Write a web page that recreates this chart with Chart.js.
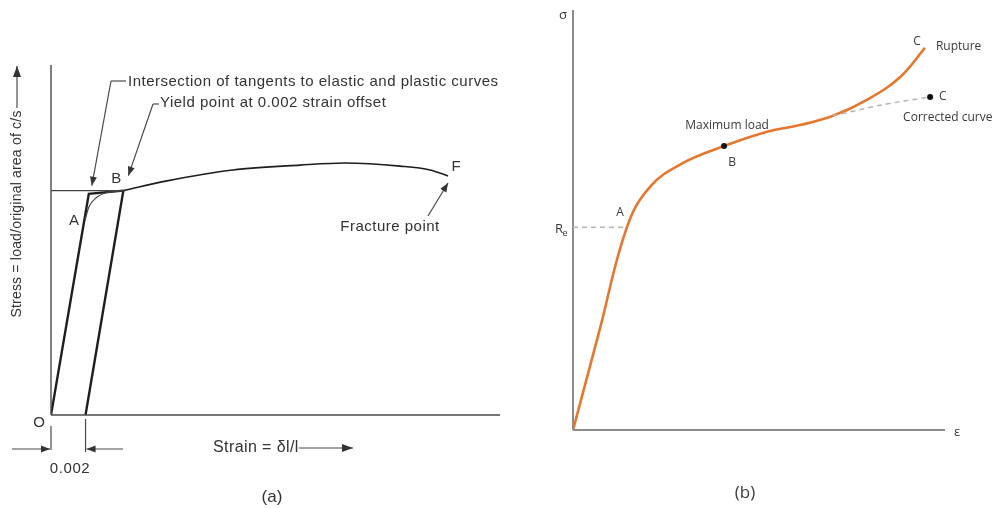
<!DOCTYPE html>
<html>
<head>
<meta charset="utf-8">
<script src="https://cdn.jsdelivr.net/npm/chart.js@4.4.1/dist/chart.umd.min.js"></script>
<style>
  body { margin: 0; background: #fff; width: 992px; height: 509px; overflow: hidden; position: relative; }
  .pane { position: absolute; top: 0; height: 509px; }
  #paneA { left: 0; width: 520px; }
  #paneB { left: 520px; width: 472px; }
</style>
</head>
<body>

<div class="pane" id="paneA"><canvas id="chartA"></canvas></div>
<div class="pane" id="paneB"><canvas id="chartB"></canvas></div>

<script>
// ---- (a) offset yield diagram: strain vs stress (stress in % of axis height)
const elasticStrain = [0, 0.00219, 0.00419];
const elasticStress = [0, 63.2, 64.1];
const offsetStrain = [0.002, 0.00419];
const offsetStress = [0, 64.1];
const kneeStrain = [0.00197, 0.0022, 0.0026, 0.0032, 0.00419];
const kneeStress = [55.7, 59.5, 62.0, 63.5, 64.1];
const tangentStrain = [0, 0.00419];
const tangentStress = [64.1, 64.1];
const plasticStrain = [0.00419, 0.00672, 0.01054, 0.01442, 0.01702, 0.02021, 0.02195, 0.02299];
const plasticStress = [64.1, 66.9, 70.0, 71.4, 72.0, 71.1, 70.0, 68.3];

// ---- (b) engineering curve (arbitrary units 0..100)
const curveStrain = [0, 7, 14.5, 20.7, 29.6, 40.6, 52.2, 61.0, 69.9, 79.0, 87.9, 94.6];
const curveStress = [0, 23.3, 48.3, 57.9, 63.6, 67.6, 71.0, 72.6, 74.8, 78.6, 84.0, 91.0];
const correctedStrain = [69.9, 83, 96.0];
const correctedStress = [74.8, 77.4, 79.3];
const reStrain = [0, 14.5];
const reStress = [48.3, 48.3];
const pointB = { x: 40.6, y: 67.6 };
const pointA = { x: 14.5, y: 48.3 };

function pts(xs, ys) {
  return xs.map((x, i) => ({ x: x, y: ys[i] }));
}

function line(ctx, x1, y1, x2, y2) {
  ctx.beginPath();
  ctx.moveTo(x1, y1);
  ctx.lineTo(x2, y2);
  ctx.stroke();
}

function arrow(ctx, x1, y1, x2, y2, len, half) {
  len = len || 9; half = half || 3.5;
  line(ctx, x1, y1, x2, y2);
  const a = Math.atan2(y2 - y1, x2 - x1);
  ctx.beginPath();
  ctx.moveTo(x2, y2);
  ctx.lineTo(x2 - len * Math.cos(a) + half * Math.sin(a), y2 - len * Math.sin(a) - half * Math.cos(a));
  ctx.lineTo(x2 - len * Math.cos(a) - half * Math.sin(a), y2 - len * Math.sin(a) + half * Math.cos(a));
  ctx.closePath();
  ctx.fill();
}

function baseOptions(padding, xMin, xMax, yMin, yMax) {
  return {
    responsive: true,
    maintainAspectRatio: false,
    animation: false,
    layout: { padding: padding },
    plugins: { legend: { display: false }, tooltip: { enabled: false } },
    scales: {
      x: { type: 'linear', min: xMin, max: xMax, display: false },
      y: { type: 'linear', min: yMin, max: yMax, display: false }
    },
    elements: { point: { radius: 0 } }
  };
}

const fontA = (px) => px + 'px "Liberation Sans", Arial, sans-serif';

// annotations for (a)
const notesA = {
  id: 'notesA',
  afterDraw(chart) {
    const ctx = chart.ctx, a = chart.chartArea;
    const X = v => chart.scales.x.getPixelForValue(v);
    const Y = v => chart.scales.y.getPixelForValue(v);
    ctx.save();
    ctx.strokeStyle = '#4a4a4a';
    ctx.fillStyle = '#333';
    ctx.lineWidth = 1.4;
    line(ctx, a.left, a.top, a.left, a.bottom);
    line(ctx, a.left, a.bottom, a.right, a.bottom);

    ctx.font = fontA(15);
    ctx.letterSpacing = '0.5px';
    ctx.textBaseline = 'middle';
    ctx.textAlign = 'left';
    ctx.fillText('Intersection of tangents to elastic and plastic curves', 128, 82);
    ctx.fillText('Yield point at 0.002 strain offset', 160, 103);

    ctx.lineWidth = 1.2;
    const bx = X(plasticStrain[0]), by = Y(plasticStress[0]);
    line(ctx, 126, 81, 111, 81);
    arrow(ctx, 111, 81, X(elasticStrain[1]) + 3, Y(tangentStress[0]) - 5);
    line(ctx, 159, 104, 153, 104);
    arrow(ctx, 153, 104, bx + 5, by - 15);

    ctx.letterSpacing = '0px';
    ctx.font = fontA(15);
    ctx.textAlign = 'center';
    ctx.fillText('B', bx - 7, by - 12);
    ctx.fillText('A', X(kneeStrain[0]) - 11, Y(kneeStress[0]) + 1);
    const fx = X(plasticStrain[plasticStrain.length - 1]), fy = Y(plasticStress[plasticStress.length - 1]);
    ctx.fillText('F', fx + 8, fy - 9);
    ctx.letterSpacing = '0.5px';
    ctx.fillText('Fracture point', 390, 227);
    arrow(ctx, 428, 216, fx, fy + 7);

    // origin and offset dimension
    ctx.letterSpacing = '0px';
    ctx.fillText('O', a.left - 12, a.bottom + 8);
    const x0 = X(0), x2 = X(offsetStrain[0]);
    line(ctx, x0, a.bottom + 11, x0, a.bottom + 35);
    line(ctx, x2, a.bottom + 4, x2, a.bottom + 37);
    arrow(ctx, 12, 449, x0 - 1, 449);
    arrow(ctx, 123, 449, x2 + 1, 449);
    ctx.font = fontA(15);
    ctx.letterSpacing = '0.6px';
    ctx.fillText('0.002', 70, 469);

    ctx.textAlign = 'left';
    ctx.font = fontA(16);
    ctx.letterSpacing = '0.4px';
    ctx.fillText('Strain = \u03b4l/l', 213, 448);
    const tw = ctx.measureText('Strain = \u03b4l/l').width;
    arrow(ctx, 213 + tw, 448, 353, 448, 11, 4);

    // y label
    ctx.save();
    ctx.translate(17, 214);
    ctx.rotate(-Math.PI / 2);
    ctx.textAlign = 'center';
    ctx.font = fontA(14);
    ctx.letterSpacing = '0.2px';
    ctx.fillText('Stress = load/original area of c/s', 0, 0);
    ctx.restore();
    arrow(ctx, 17, 108, 17, 66, 11, 4);

    ctx.letterSpacing = '0px';
    ctx.font = fontA(17);
    ctx.textAlign = 'center';
    ctx.fillText('(a)', 272, 497);
    ctx.restore();
  }
};

// annotations for (b)
const notesB = {
  id: 'notesB',
  beforeDatasetsDraw(chart) {
    const ctx = chart.ctx, a = chart.chartArea;
    ctx.save();
    ctx.strokeStyle = '#8c8c8c';
    ctx.lineWidth = 2;
    line(ctx, a.left, a.top, a.left, a.bottom);
    line(ctx, a.left, a.bottom, a.right, a.bottom);
    ctx.restore();
  },
  afterDraw(chart) {
    const ctx = chart.ctx, a = chart.chartArea;
    const X = v => chart.scales.x.getPixelForValue(v);
    const Y = v => chart.scales.y.getPixelForValue(v);
    ctx.save();
    ctx.fillStyle = '#3a3a3a';
    ctx.textBaseline = 'middle';
    ctx.textAlign = 'center';
    ctx.font = '13px "Open Sans", sans-serif';
    ctx.fillText('\u03c3', a.left - 10, a.top + 5);
    ctx.fillText('\u03b5', a.right + 12, a.bottom + 2);
    ctx.fillText('R', a.left - 14, Y(reStress[0]) + 2);
    ctx.font = '9px "Open Sans", sans-serif';
    ctx.fillText('e', a.left - 8, Y(reStress[0]) + 6);

    ctx.font = '12px "Open Sans", sans-serif';
    const ax = X(pointA.x), ay = Y(pointA.y);
    ctx.fillText('A', ax - 7, ay - 15);
    const bx = X(pointB.x), by = Y(pointB.y);
    ctx.fillText('Maximum load', bx + 3, by - 21);
    ctx.fillText('B', bx + 8, by + 16);
    ctx.beginPath();
    ctx.arc(bx, by, 3, 0, Math.PI * 2);
    ctx.fillStyle = '#111';
    ctx.fill();

    const ex = X(curveStrain[curveStrain.length - 1]), ey = Y(curveStress[curveStress.length - 1]);
    ctx.fillStyle = '#3a3a3a';
    ctx.fillText('C', ex - 8, ey - 6);
    ctx.textAlign = 'left';
    ctx.fillText('Rupture', ex + 11, ey - 1);

    const cx = X(correctedStrain[correctedStrain.length - 1]), cy = Y(correctedStress[correctedStress.length - 1]);
    ctx.beginPath();
    ctx.arc(cx, cy, 3, 0, Math.PI * 2);
    ctx.fillStyle = '#111';
    ctx.fill();
    ctx.fillStyle = '#3a3a3a';
    ctx.fillText('C', cx + 9, cy);
    ctx.fillText('Corrected curve', cx - 27, cy + 21);

    ctx.font = '17px "Open Sans", sans-serif';
    ctx.textAlign = 'center';
    ctx.fillText('(b)', 225, 493);
    ctx.restore();
  }
};

const ink = '#1e1e1e';

new Chart(document.getElementById('chartA'), {
  type: 'scatter',
  data: {
    datasets: [
      { data: pts(tangentStrain, tangentStress), showLine: true, borderColor: '#444', borderWidth: 1.2 },
      { data: pts(kneeStrain, kneeStress), showLine: true, borderColor: '#444', borderWidth: 1.2, cubicInterpolationMode: 'monotone' },
      { data: pts(elasticStrain, elasticStress), showLine: true, borderColor: ink, borderWidth: 2.4 },
      { data: pts(offsetStrain, offsetStress), showLine: true, borderColor: ink, borderWidth: 2.4 },
      { data: pts(plasticStrain, plasticStress), showLine: true, borderColor: ink, borderWidth: 1.6, cubicInterpolationMode: 'monotone' }
    ]
  },
  options: baseOptions({ left: 51, top: 65, right: 20, bottom: 94 }, 0, 0.026, 0, 100),
  plugins: [notesA]
});

new Chart(document.getElementById('chartB'), {
  type: 'scatter',
  data: {
    datasets: [
      { data: pts(reStrain, reStress), showLine: true, borderColor: '#b5b5b5', borderWidth: 1.5, borderDash: [5, 4] },
      { data: pts(correctedStrain, correctedStress), showLine: true, borderColor: '#b5b5b5', borderWidth: 1.5, borderDash: [5, 4], tension: 0.3 },
      { data: pts(curveStrain, curveStress), showLine: true, borderColor: '#e8772e', borderWidth: 2.6, tension: 0.4 }
    ]
  },
  options: baseOptions({ left: 53, top: 10, right: 47, bottom: 79 }, 0, 100, 0, 100),
  plugins: [notesB]
});
</script>
</body>
</html>
